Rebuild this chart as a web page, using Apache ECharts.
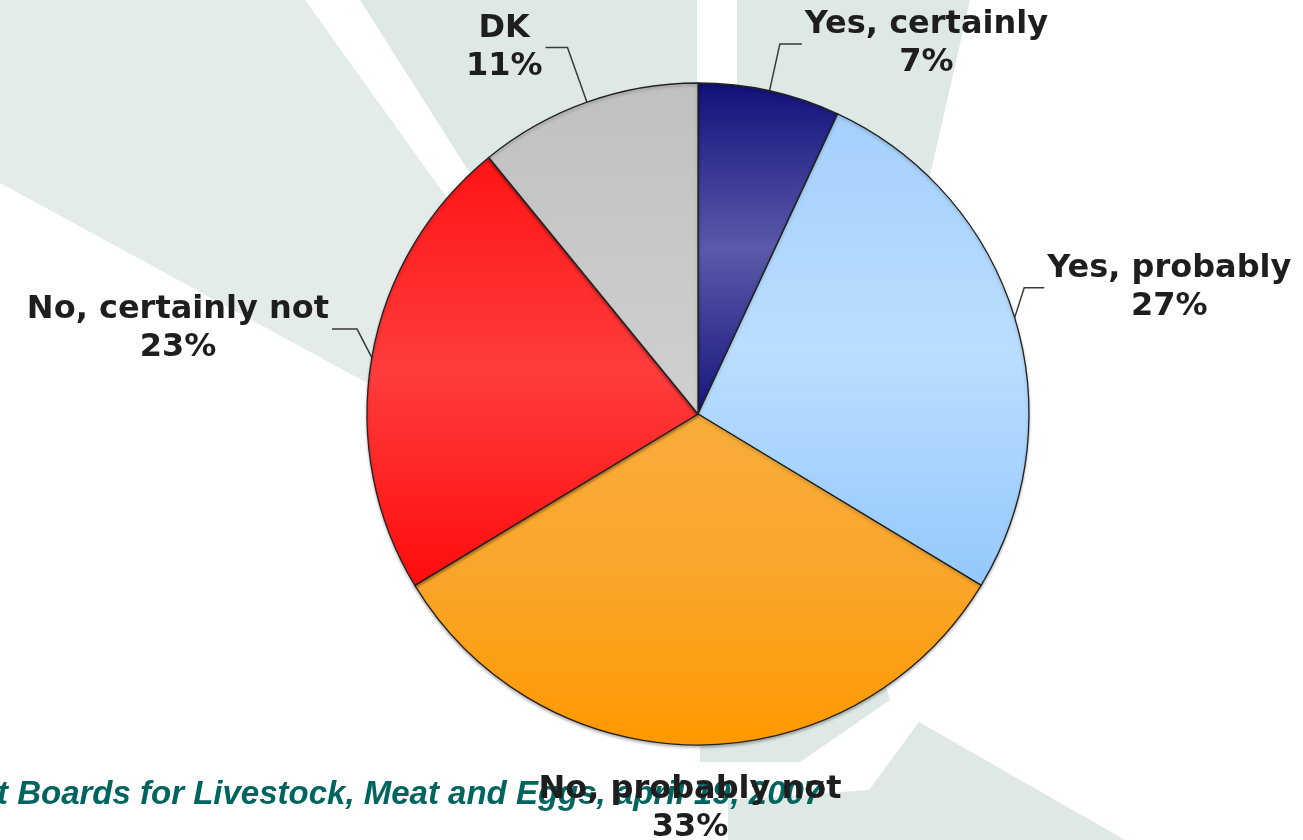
<!DOCTYPE html>
<html>
<head>
<meta charset="utf-8">
<script src="https://cdn.jsdelivr.net/npm/echarts@6/dist/echarts.min.js"></script>
<style>
  html, body { margin: 0; padding: 0; background: #fff; }
  #chart { width: 1303px; height: 840px; }
</style>
</head>
<body>
<div id="chart"></div>
<script>
// answers, clockwise from 12 o'clock
const categories = ['Yes, certainly', 'Yes, probably', 'No, probably not', 'No, certainly not', 'DK'];
const shares = [7, 27, 33, 23, 11];
const footnote = 't Boards for Livestock, Meat and Eggs, april 19, 2007';

// vertical gradients of the slices (top, middle, bottom)
const sliceColors = [
    ['#10107a', '#5a5aaa', '#16167c'],
    ['#a4d0fc', '#badeff', '#94c8fb'],
    ['#f7ad3a', '#faa52a', '#ff9900'],
    ['#ff1414', '#ff3c3c', '#ff0c0c'],
    ['#c0c0c0', '#c8c8c8', '#d0d0d0']
];
// leader line [length, length2]
const lineLen = [[48, 22], [10, 20], [0, 0], [15, 25], [58, 22]];

const CX = 698, CY = 414, R = 331;
const chart = echarts.init(document.getElementById('chart'));

const grad = (c) => ({
    type: 'linear', x: 0, y: 0, x2: 0, y2: 1,
    colorStops: [{ offset: 0, color: c[0] }, { offset: 0.5, color: c[1] }, { offset: 1, color: c[2] }]
});

const pieData = categories.map((name, i) => ({
    name: name,
    value: shares[i],
    itemStyle: { color: grad(sliceColors[i]) },
    labelLine: i === 2 ? { show: false } : { length: lineLen[i][0], length2: lineLen[i][1] }
}));

// light rays of the slide background
const rayFill = '#dee8e5';
const rays = [
    { pts: [[0, 0], [305, 0], [470, 230], [560, 420], [380, 390], [0, 183]], fill: '#e4ecea' },
    { pts: [[360, 0], [697, 0], [697, 300], [506, 230]], fill: rayFill },
    { pts: [[737, 0], [970, 0], [913, 250], [737, 300]], fill: rayFill },
    { pts: [[640, 600], [860, 600], [890, 700], [800, 762], [700, 762], [700, 700]], fill: rayFill },
    { pts: [[919, 722], [1125, 840], [728, 840], [728, 800], [869, 790]], fill: rayFill }
];

const graphics = rays.map(r => ({
    type: 'polygon', z: -10, silent: true,
    shape: { points: r.pts },
    style: { fill: r.fill }
}));
graphics.push({
    type: 'text', z: 0, silent: true,
    style: {
        text: footnote, x: -3, y: 795,
        font: 'italic bold 33px "Liberation Sans", Arial, sans-serif',
        fill: '#00655f', verticalAlign: 'middle'
    }
});

const lift = { 1: -27, 3: -26 };

chart.setOption({
    animation: false,
    backgroundColor: '#fff',
    graphic: graphics,
    series: [{
        type: 'pie',
        center: [CX, CY],
        radius: R,
        startAngle: 90,
        clockwise: true,
        avoidLabelOverlap: false,
        data: pieData,
        itemStyle: {
            borderColor: '#222',
            borderWidth: 1.3,
            shadowColor: 'rgba(0,0,0,0.25)',
            shadowBlur: 3,
            shadowOffsetY: 2
        },
        label: {
            show: true,
            position: 'outside',
            distanceToLabelLine: 3,
            formatter: '{t|{b}}\n{t|{c}%}',
            rich: {
                t: {
                    align: 'center',
                    fontFamily: '"DejaVu Sans", Verdana, sans-serif',
                    fontWeight: 'bold',
                    fontSize: 32,
                    lineHeight: 38,
                    color: '#1e1e1e'
                }
            }
        },
        labelLine: {
            show: true,
            smooth: false,
            lineStyle: { color: '#3a3a3a', width: 1.5 }
        },
        labelLayout: function (p) {
            if (p.dataIndex === 2) {
                return { x: CX - 8, y: CY + R + 64, align: 'center', verticalAlign: 'middle' };
            }
            const d = lift[p.dataIndex];
            if (d && p.labelLinePoints) {
                const pts = p.labelLinePoints;
                return {
                    dy: d,
                    labelLinePoints: [
                        [pts[0][0], pts[0][1]],
                        [pts[1][0], pts[1][1] + d],
                        [pts[2][0], pts[2][1] + d]
                    ]
                };
            }
        }
    }]
});
</script>
</body>
</html>
